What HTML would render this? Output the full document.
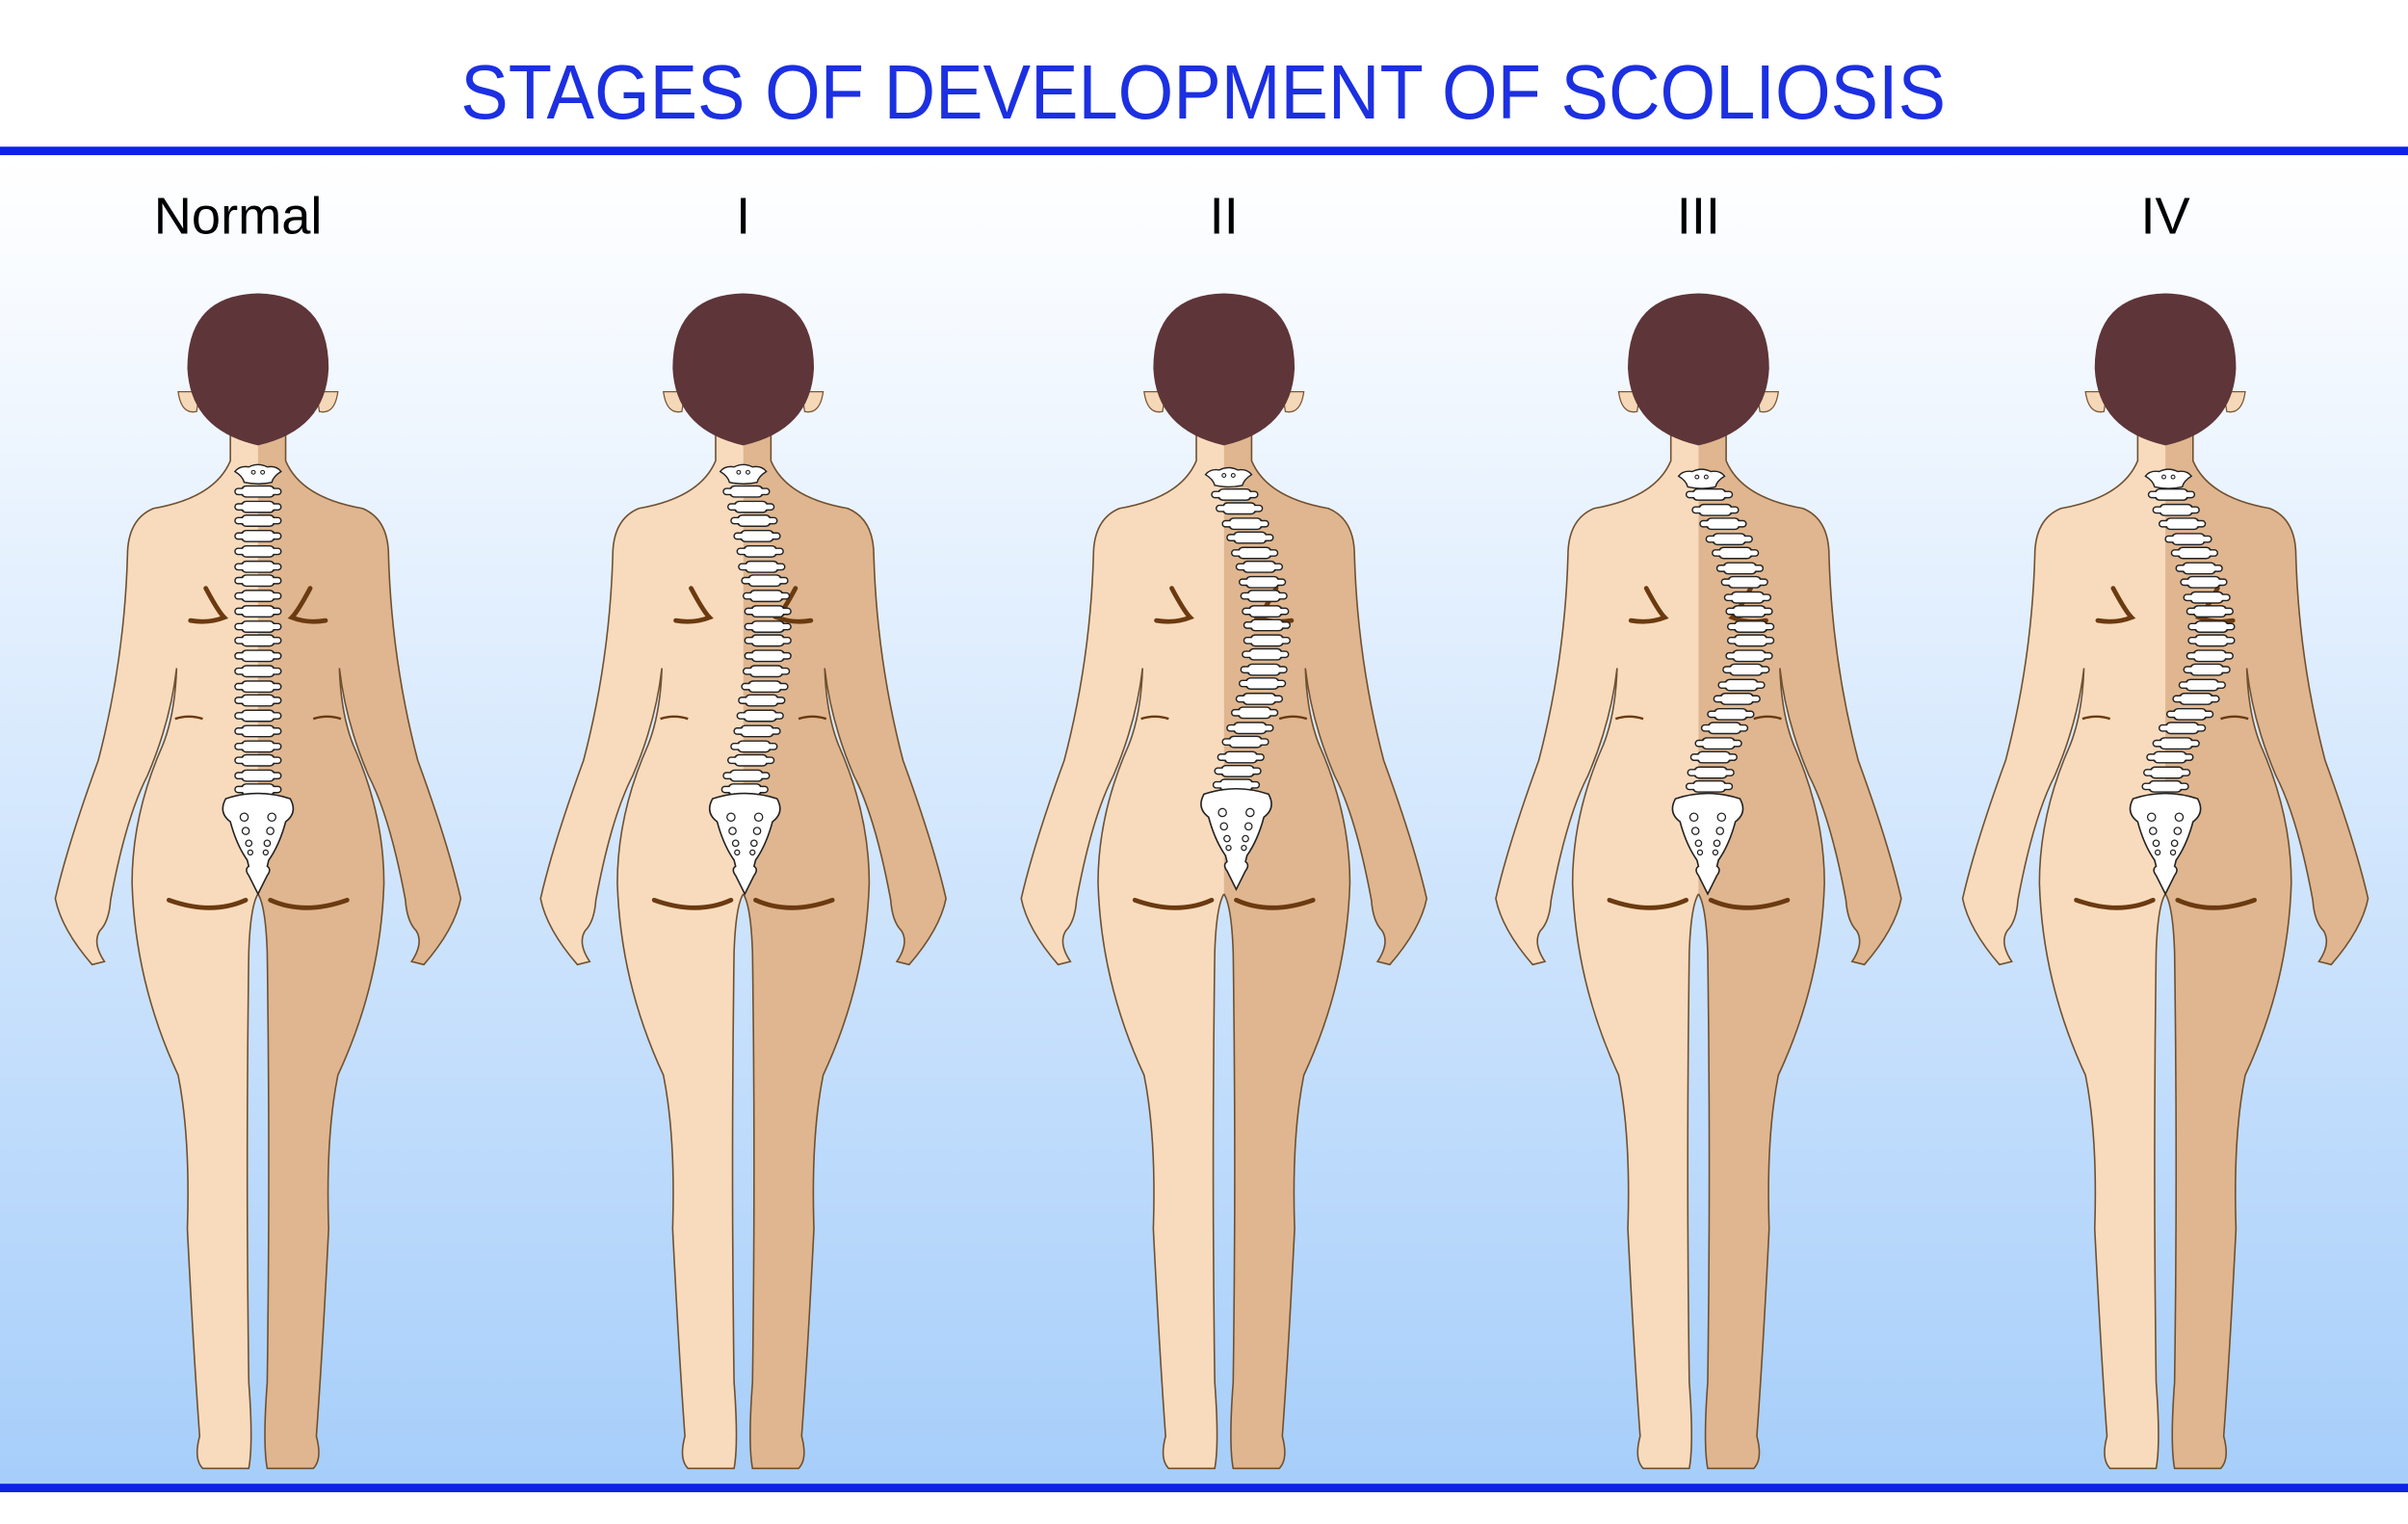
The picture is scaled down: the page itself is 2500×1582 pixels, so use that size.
<!DOCTYPE html>
<html><head><meta charset="utf-8"><style>
html,body{margin:0;padding:0;background:#fff;}
svg{display:block;}
</style></head><body>
<svg width="2500" height="1582" viewBox="0 0 1568 992.2" preserveAspectRatio="none" xmlns="http://www.w3.org/2000/svg">
<defs>
<linearGradient id="bg" x1="0" y1="0" x2="0" y2="1">
<stop offset="0" stop-color="#ffffff"/>
<stop offset="0.12" stop-color="#f6faff"/>
<stop offset="1" stop-color="#a6cefa"/>
</linearGradient>
<path id="halfFill" d="M 0,270 L -18,270 L -18,300 Q -28,324 -68,331 Q -85,338 -85,362 Q -87,430 -104,495 Q -124,550 -132,585 Q -128,605 -108,628 L -100,626 Q -108,614 -103,606 Q -97,600 -96,586 Q -86,532 -72,505 Q -57,470 -53,435 Q -54,465 -62,485 Q -82,530 -82,575 Q -80,640 -52,700 Q -44,740 -46,800 Q -42,880 -38,935 Q -42,950 -36,956 L -6,956 Q -3,940 -6,900 Q -8,760 -6,620 Q -5,590 0,582 Z"/>
<path id="halfLine" d="M -18,270 L -18,300 Q -28,324 -68,331 Q -85,338 -85,362 Q -87,430 -104,495 Q -124,550 -132,585 Q -128,605 -108,628 L -100,626 Q -108,614 -103,606 Q -97,600 -96,586 Q -86,532 -72,505 Q -57,470 -53,435 Q -54,465 -62,485 Q -82,530 -82,575 Q -80,640 -52,700 Q -44,740 -46,800 Q -42,880 -38,935 Q -42,950 -36,956 L -6,956 Q -3,940 -6,900 Q -8,760 -6,620 Q -5,590 0,582"/>
<g id="vert"><rect x="-11" y="-3.6" width="22" height="7.2" rx="3.4" fill="#fff" stroke="#222" stroke-width="0.9"/><rect x="-15" y="-2" width="30" height="4" rx="2" fill="#fff" stroke="#222" stroke-width="0.9"/><rect x="-10.4" y="-3" width="20.8" height="6" rx="3" fill="#fff"/></g>
<g id="atlas"><path d="M-15,-3 Q-12,-7 -6,-6 Q0,-9 6,-6 Q12,-7 15,-3 Q10,0 9,4 Q0,6 -9,4 Q-10,0 -15,-3Z" fill="#fff" stroke="#222" stroke-width="0.9"/><circle cx="-3" cy="-2.5" r="1.2" fill="none" stroke="#222" stroke-width="0.7"/><circle cx="3" cy="-2.5" r="1.2" fill="none" stroke="#222" stroke-width="0.7"/></g>
<g id="sacrum"><path d="M -21,0 Q -26,9 -18,15 Q -14,30 -7,40 L -6,44 Q -9,46 -6,50 Q -2,58 0,62 Q 2,58 6,50 Q 9,46 6,44 L 7,40 Q 14,30 18,15 Q 26,9 21,0 Q 0,-7 -21,0 Z" fill="#fff" stroke="#222" stroke-width="1"/>
<g fill="none" stroke="#222" stroke-width="0.8"><circle cx="-9" cy="12" r="2.6"/><circle cx="9" cy="12" r="2.6"/><circle cx="-8" cy="21" r="2.3"/><circle cx="8" cy="21" r="2.3"/><circle cx="-6" cy="29" r="2"/><circle cx="6" cy="29" r="2"/><circle cx="-5" cy="35" r="1.6"/><circle cx="5" cy="35" r="1.6"/></g></g>
<g id="body">
<path d="M -52,255 Q -50,270 -40,268 L -38,255Z M 52,255 Q 50,270 40,268 L 38,255Z" fill="#f5d8b8" stroke="#7a5635" stroke-width="0.8"/>
<use href="#halfFill" fill="#f8dbbd"/>
<use href="#halfFill" transform="scale(-1,1)" fill="#dfb68f"/>
<use href="#halfLine" fill="none" stroke="#6f5030" stroke-width="1"/>
<use href="#halfLine" transform="scale(-1,1)" fill="none" stroke="#6f5030" stroke-width="1"/>
<path d="M -46,240 Q -46,192 0,191 Q 46,192 46,240 Q 44,280 0,290 Q -44,280 -46,240Z" fill="#5e3538"/>
<g fill="none" stroke="#6b3a10" stroke-width="3" stroke-linecap="round">
<path d="M -34,383 Q -26,398 -22,402 Q -32,406 -44,404"/>
<path d="M 34,383 Q 26,398 22,402 Q 32,406 44,404"/>
<path d="M -58,586 Q -30,596 -8,586"/>
<path d="M 58,586 Q 30,596 8,586"/>
</g>
<g fill="none" stroke="#6b3a10" stroke-width="1.5"><path d="M -54,468 Q -45,465 -36,468"/><path d="M 54,468 Q 45,465 36,468"/></g>
</g>
</defs>
<rect x="0" y="100" width="1568" height="868" fill="url(#bg)"/>
<rect x="0" y="95.5" width="1568" height="5.5" fill="#0c22e6"/>
<rect x="0" y="966" width="1568" height="5.5" fill="#0c22e6"/>
<text x="300" y="77" font-family="Liberation Sans, sans-serif" font-size="50" fill="#1c30e2" textLength="967" lengthAdjust="spacingAndGlyphs">STAGES OF DEVELOPMENT OF SCOLIOSIS</text>
<g font-family="Liberation Sans, sans-serif" font-size="34" fill="#000" text-anchor="middle">
<text x="155" y="152">Normal</text><text x="484" y="152">I</text><text x="797" y="152">II</text><text x="1106" y="152">III</text><text x="1410" y="152">IV</text>
</g>
<use href="#body" x="168"/>
<use href="#body" x="484"/>
<use href="#body" x="797"/>
<use href="#body" x="1106"/>
<use href="#body" x="1410"/>
<g>
<use href="#atlas" x="168" y="310"/>
<use href="#vert" x="168" y="320"/><use href="#vert" x="168" y="330"/><use href="#vert" x="168" y="339"/><use href="#vert" x="168" y="349"/><use href="#vert" x="168" y="359"/><use href="#vert" x="168" y="369"/><use href="#vert" x="168" y="378"/><use href="#vert" x="168" y="388"/><use href="#vert" x="168" y="398"/><use href="#vert" x="168" y="408"/><use href="#vert" x="168" y="417"/><use href="#vert" x="168" y="427"/><use href="#vert" x="168" y="437"/><use href="#vert" x="168" y="447"/><use href="#vert" x="168" y="456"/><use href="#vert" x="168" y="466"/><use href="#vert" x="168" y="476"/><use href="#vert" x="168" y="486"/><use href="#vert" x="168" y="495"/><use href="#vert" x="168" y="505"/><use href="#vert" x="168" y="514"/>
<use href="#sacrum" x="168" y="520"/>
</g>
<g>
<use href="#atlas" x="484" y="310"/>
<use href="#vert" x="486" y="320"/><use href="#vert" x="489" y="330"/><use href="#vert" x="491" y="339"/><use href="#vert" x="493" y="349"/><use href="#vert" x="495" y="359"/><use href="#vert" x="496" y="369"/><use href="#vert" x="498" y="378"/><use href="#vert" x="499" y="388"/><use href="#vert" x="500" y="398"/><use href="#vert" x="500" y="408"/><use href="#vert" x="500" y="417"/><use href="#vert" x="500" y="427"/><use href="#vert" x="499" y="437"/><use href="#vert" x="498" y="447"/><use href="#vert" x="496" y="456"/><use href="#vert" x="495" y="466"/><use href="#vert" x="493" y="476"/><use href="#vert" x="491" y="486"/><use href="#vert" x="489" y="495"/><use href="#vert" x="486" y="505"/><use href="#vert" x="485" y="514"/>
<use href="#sacrum" x="485" y="520"/>
</g>
<g>
<use href="#atlas" x="800" y="312"/>
<use href="#vert" x="804" y="322"/><use href="#vert" x="807" y="331"/><use href="#vert" x="811" y="341"/><use href="#vert" x="814" y="350"/><use href="#vert" x="817" y="360"/><use href="#vert" x="820" y="369"/><use href="#vert" x="822" y="379"/><use href="#vert" x="823" y="388"/><use href="#vert" x="824" y="398"/><use href="#vert" x="825" y="407"/><use href="#vert" x="825" y="417"/><use href="#vert" x="824" y="426"/><use href="#vert" x="823" y="436"/><use href="#vert" x="822" y="445"/><use href="#vert" x="820" y="455"/><use href="#vert" x="817" y="464"/><use href="#vert" x="814" y="474"/><use href="#vert" x="811" y="483"/><use href="#vert" x="808" y="493"/><use href="#vert" x="806" y="502"/><use href="#vert" x="805" y="511"/>
<use href="#sacrum" x="805" y="517"/>
</g>
<g>
<use href="#atlas" x="1108" y="313"/>
<use href="#vert" x="1113" y="322"/><use href="#vert" x="1117" y="332"/><use href="#vert" x="1122" y="341"/><use href="#vert" x="1126" y="351"/><use href="#vert" x="1130" y="360"/><use href="#vert" x="1133" y="370"/><use href="#vert" x="1136" y="379"/><use href="#vert" x="1138" y="389"/><use href="#vert" x="1139" y="398"/><use href="#vert" x="1140" y="408"/><use href="#vert" x="1140" y="417"/><use href="#vert" x="1139" y="427"/><use href="#vert" x="1137" y="436"/><use href="#vert" x="1134" y="446"/><use href="#vert" x="1131" y="455"/><use href="#vert" x="1127" y="465"/><use href="#vert" x="1123" y="474"/><use href="#vert" x="1119" y="484"/><use href="#vert" x="1116" y="493"/><use href="#vert" x="1114" y="503"/><use href="#vert" x="1113" y="512"/>
<use href="#sacrum" x="1112" y="520"/>
</g>
<g>
<use href="#atlas" x="1412" y="313"/>
<use href="#vert" x="1414" y="322"/><use href="#vert" x="1417" y="332"/><use href="#vert" x="1421" y="341"/><use href="#vert" x="1425" y="351"/><use href="#vert" x="1429" y="360"/><use href="#vert" x="1432" y="370"/><use href="#vert" x="1435" y="379"/><use href="#vert" x="1437" y="389"/><use href="#vert" x="1439" y="398"/><use href="#vert" x="1440" y="408"/><use href="#vert" x="1440" y="417"/><use href="#vert" x="1439" y="427"/><use href="#vert" x="1437" y="436"/><use href="#vert" x="1434" y="446"/><use href="#vert" x="1430" y="455"/><use href="#vert" x="1426" y="465"/><use href="#vert" x="1421" y="474"/><use href="#vert" x="1417" y="484"/><use href="#vert" x="1413" y="493"/><use href="#vert" x="1411" y="503"/><use href="#vert" x="1410" y="512"/>
<use href="#sacrum" x="1410" y="520"/>
</g>
</svg>
</body></html>
